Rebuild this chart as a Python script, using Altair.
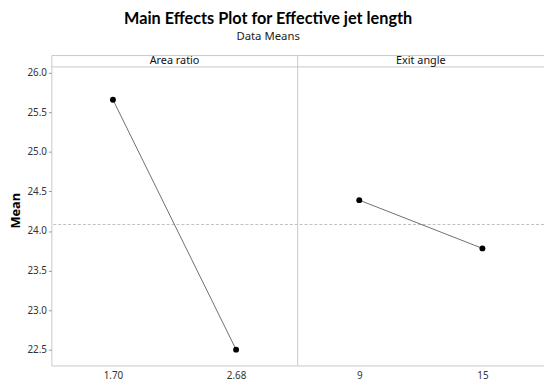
import altair as alt
import pandas as pd

factors = ["Area ratio", "Area ratio", "Exit angle", "Exit angle"]
levels = ["1.70", "2.68", "9", "15"]
means = [25.66, 22.50, 24.39, 23.78]
y_ticks = [22.5, 23.0, 23.5, 24.0, 24.5, 25.0, 25.5, 26.0]
factor_names = ["Area ratio", "Exit angle"]

df = pd.DataFrame({"factor": factors, "level": levels, "mean": means})
hdr = pd.DataFrame({"factor": factor_names, "pos": [i + 0.5 for i in range(len(factor_names))]})
div = pd.DataFrame({"pos": [i for i in range(1, len(factor_names))]})

FONT = "Noto Sans"
ydom = [22.30, 26.224]
yscale = alt.Scale(domain=ydom, nice=False, zero=False)
xscale = alt.Scale(domain=levels, type="point", padding=0.5)

base = alt.Chart(df)

ref = base.transform_aggregate(gm="mean(mean)").mark_rule(
    color="#bdbdbd", strokeDash=[3, 2], strokeWidth=1
).encode(y=alt.Y("gm:Q", scale=yscale))

line = base.mark_line(color="#6e6e6e", strokeWidth=1).encode(
    x=alt.X("level:N", sort=levels, scale=xscale,
            axis=alt.Axis(title=None, labelAngle=0, ticks=False, domain=False,
                          labelPadding=5, labelFontSize=10, labelColor="#333",
                          labelFont=FONT)),
    y=alt.Y("mean:Q", scale=yscale,
            axis=alt.Axis(title="Mean", values=y_ticks, format=".1f", grid=False,
                          domain=False, tickSize=3, tickColor="#999",
                          labelFontSize=10, labelColor="#333", labelFont=FONT,
                          titleFont=FONT, titleFontSize=13, titleFontWeight="bold",
                          titleColor="#000", titlePadding=4)),
    detail="factor:N",
)

pts = base.mark_circle(color="#000", opacity=1, size=36).encode(
    x=alt.X("level:N", sort=levels, scale=xscale, axis=None),
    y=alt.Y("mean:Q", scale=yscale),
)

hscale = alt.Scale(domain=[0, len(factor_names)])

hline = alt.Chart(div).mark_rule(color="#c8c8c8", strokeWidth=1).encode(
    x=alt.value(0), x2=alt.value(500), y=alt.value(12)
)
divider = alt.Chart(div).mark_rule(color="#c8c8c8", strokeWidth=1).encode(
    x=alt.X("pos:Q", scale=hscale, axis=None)
)
htext = alt.Chart(hdr).mark_text(
    font=FONT, fontSize=11, color="#111", baseline="middle"
).encode(
    x=alt.X("pos:Q", scale=hscale, axis=None),
    y=alt.value(6),
    text="factor:N",
)

chart = alt.layer(ref, line, pts, hline, divider, htext).resolve_scale(
    x="independent"
).properties(
    width=500,
    height=315,
    autosize=alt.AutoSizeParams(type="none"),
    padding={"left": 44, "top": 45, "right": 0, "bottom": 13},
    title=alt.TitleParams(
        text="Main Effects Plot for Effective jet length",
        subtitle="Data Means",
        font="Lato", fontSize=16.5, fontWeight="bold", color="#000",
        subtitleFont=FONT, subtitleFontSize=11.5, subtitleColor="#222",
        subtitlePadding=4, anchor="middle", frame="group", dx=-30, offset=12,
    ),
).configure_view(stroke="#c8c8c8", strokeWidth=1)

chart.save("out.html", embed_options={"renderer": "svg", "actions": False})
